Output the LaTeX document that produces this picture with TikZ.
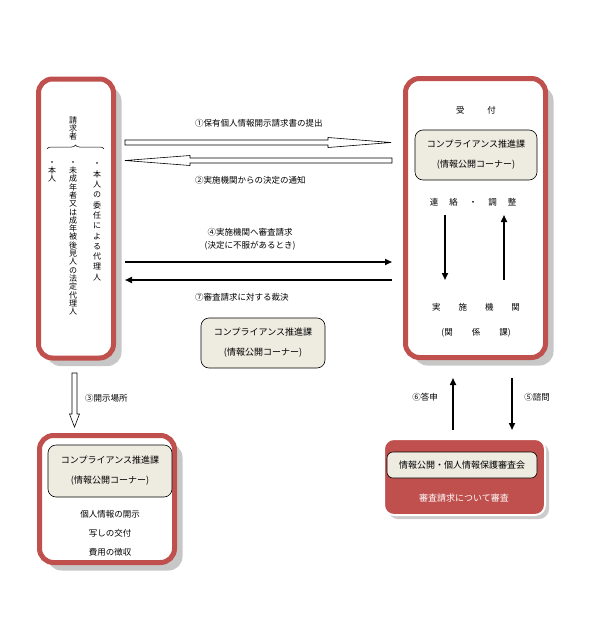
\documentclass[tikz,border=0pt]{standalone}
\usepackage{fontspec}
\setmainfont{Noto Sans CJK JP}
\usetikzlibrary{calc,positioning,shadows,arrows.meta,decorations.pathreplacing}

\definecolor{boxred}{RGB}{192,80,77}
\definecolor{boxtan}{RGB}{238,236,225}

% upright characters stacked one below the other
\newdimen\tatepitch
\newcommand\tate[2][9pt]{\tatepitch=#1\relax\vbox{\offinterlineskip\tateloop#2\relax}}
\def\tateloop#1{\ifx\relax#1\else\hbox to 1em{\hss\vrule height .85\tatepitch depth .15\tatepitch width 0pt\relax #1\hss}\expandafter\tateloop\fi}

\begin{document}
\begin{tikzpicture}[x=1pt, y=-1pt
        , every node/.style={ inner sep=0pt }
        , redbox/.style={ draw=boxred, line width=5pt, rounded corners=14pt, fill=white,
            drop shadow={shadow xshift=8pt, shadow yshift=-8pt, fill=black!22, opacity=1} }
        , tanbox/.style={ draw=black, line width=.6pt, rounded corners=8pt, fill=boxtan,
            align=center, font=\fontsize{9}{20}\selectfont }
        , lbl/.style={ font=\fontsize{8.5}{13}\selectfont, align=center }
        , hollow/.style={ draw=black, line width=.6pt, fill=white }
        , solidarrow/.style={ line width=1.6pt, -{Triangle[length=7pt,width=6pt]} }
        ]
    \useasboundingbox (0,0) rectangle (595,634);

    % frames
    \node[redbox, minimum width=75pt, minimum height=279pt] (req) at (76,218.5) {};
    \node[redbox, minimum width=140pt, minimum height=279pt] (acc) at (475.5,218) {};
    \node[redbox, minimum width=135pt, minimum height=127pt] (place) at (107,499) {};
    \node[draw=white, line width=2pt, fill=boxred, rounded corners=10pt,
        drop shadow={shadow xshift=4pt, shadow yshift=-4pt, fill=black!20, opacity=1},
        minimum width=161pt, minimum height=76pt] (board) at (464.5,477) {};

    % requester
    \node[anchor=north, font=\fontsize{8}{8}\selectfont] (seikyu) at (73,116) {\tate[8pt]{請求者}};
    \coordinate (bl) at (47,149);
    \coordinate (br) at (104,149);
    \draw[line width=.5pt, decorate, decoration={brace, amplitude=4pt}] (bl) -- (br);
    \node[anchor=north, font=\fontsize{8}{8}\selectfont] (self) at (52,158) {\tate[8.3pt]{・本人}};
    \node[anchor=north, font=\fontsize{8}{8}\selectfont] (legal) at (73,158)
        {\tate[8.3pt]{・未成年者又は成年被後見人の法定代理人}};
    \node[anchor=north, font=\fontsize{8}{8}\selectfont] (agent) at (97,158)
        {\tate[10.3pt]{・本人の委任による代理人}};

    % reception side
    \node[lbl] (uketsuke) at (476,110) {受\hspace{23pt}付};
    \node[tanbox, minimum width=122pt, minimum height=50pt] (accdiv) at (476,155)
        {コンプライアンス推進課\\(情報公開コーナー)};
    \node[lbl] (renraku) at (473,202) {連\hspace{11pt}絡\hspace{11pt}・\hspace{11pt}調\hspace{11pt}整};
    \node[lbl] (jisshi) at (476,307) {実\hspace{18pt}施\hspace{18pt}機\hspace{18pt}関};
    \node[lbl] (kankei) at (476,333) {(関\hspace{19pt}係\hspace{19pt}課)};
    \coordinate (d1) at (445,215);
    \coordinate (d2) at (445,280);
    \coordinate (u1) at (504,280);
    \coordinate (u2) at (504,215);
    \draw[solidarrow] (d1) -- (d2);
    \draw[solidarrow] (u1) -- (u2);

    \node[tanbox, minimum width=124pt, minimum height=50pt] (middiv) at (263,343)
        {コンプライアンス推進課\\(情報公開コーナー)};

    % request and notice
    \coordinate (a1s) at (125,142.5);
    \coordinate (a1e) at (391,142.5);
    \draw[hollow] ($(a1s)+(0,-2.5)$) -- ($(a1e)+(-63,-2.5)$) -- ($(a1e)+(-63,-5)$) -- (a1e)
        -- ($(a1e)+(-63,5)$) -- ($(a1e)+(-63,2.5)$) -- ($(a1s)+(0,2.5)$) -- cycle;
    \node[lbl, anchor=west] (l1) at (195,123) {①保有個人情報開示請求書の提出};

    \coordinate (a2s) at (392,160.5);
    \coordinate (a2e) at (125,160.5);
    \draw[hollow] ($(a2s)+(0,-2.5)$) -- ($(a2e)+(65,-2.5)$) -- ($(a2e)+(65,-5)$) -- (a2e)
        -- ($(a2e)+(65,5)$) -- ($(a2e)+(65,2.5)$) -- ($(a2s)+(0,2.5)$) -- cycle;
    \node[lbl, anchor=west] (l2) at (195,180) {②実施機関からの決定の通知};

    % appeal and ruling
    \coordinate (a4s) at (125,262);
    \coordinate (a4e) at (392,262);
    \coordinate (a7s) at (392,280);
    \coordinate (a7e) at (125,280);
    \draw[solidarrow] (a4s) -- (a4e);
    \draw[solidarrow] (a7s) -- (a7e);
    \node[lbl] (l4) at (250,239.5) {④実施機関へ審査請求\\(決定に不服があるとき)};
    \node[lbl, anchor=west] (l7) at (195,297) {⑦審査請求に対する裁決};

    % place of disclosure
    \coordinate (a3s) at (74.5,373);
    \coordinate (a3e) at (74.5,427);
    \draw[hollow] ($(a3s)+(-2.5,0)$) -- ($(a3e)+(-2.5,-13)$) -- ($(a3e)+(-5,-13)$) -- (a3e)
        -- ($(a3e)+(5,-13)$) -- ($(a3e)+(2.5,-13)$) -- ($(a3s)+(2.5,0)$) -- cycle;
    \node[lbl, anchor=west] (l3) at (85,398) {③開示場所};

    \node[tanbox, minimum width=124pt, minimum height=52pt] (placediv) at (110,471)
        {コンプライアンス推進課\\(情報公開コーナー)};
    \node[lbl] (kaiji) at (110,514) {個人情報の開示};
    \node[lbl] (utsushi) at (110,533) {写しの交付};
    \node[lbl] (hiyou) at (110,552) {費用の徴収};

    % review board
    \coordinate (a6s) at (453,430);
    \coordinate (a6e) at (453,378);
    \coordinate (a5s) at (512,378);
    \coordinate (a5e) at (512,430);
    \draw[solidarrow] (a6s) -- (a6e);
    \draw[solidarrow] (a5s) -- (a5e);
    \node[lbl] (l6) at (425,397) {⑥答申};
    \node[lbl] (l5) at (537,397) {⑤諮問};

    \node[tanbox, minimum width=150pt, minimum height=26pt, rounded corners=6pt] (boardname)
        at (462,465) {情報公開・個人情報保護審査会};
    \node[lbl, text=white, font=\fontsize{9}{11}\selectfont] (shinsa) at (464,498) {審査請求について審査};

\end{tikzpicture}
\end{document}
